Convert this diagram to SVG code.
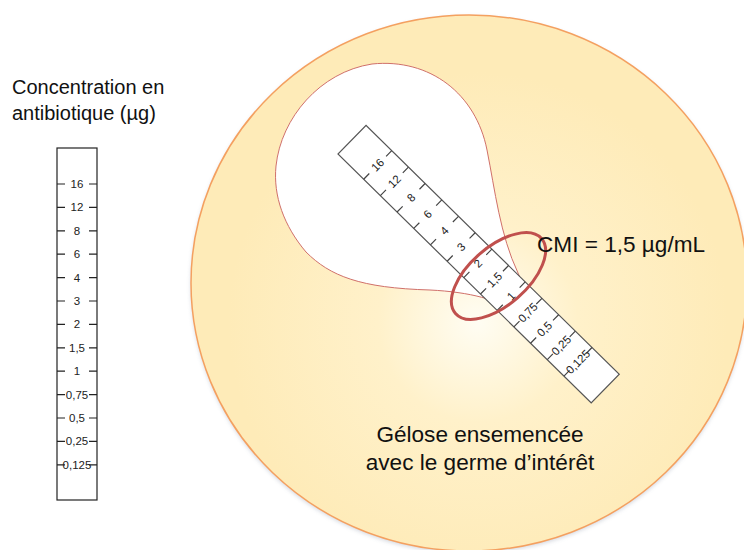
<svg xmlns="http://www.w3.org/2000/svg" width="744" height="550" viewBox="0 0 744 550">
  <defs>
    <radialGradient id="agar" cx="478" cy="322" r="250" gradientUnits="userSpaceOnUse">
      <stop offset="0" stop-color="#FFFDF3"/>
      <stop offset="0.4" stop-color="#FFF1CA"/>
      <stop offset="1" stop-color="#FEEBB8"/>
    </radialGradient>
    <filter id="soft" x="-10%" y="-10%" width="120%" height="120%">
      <feGaussianBlur stdDeviation="2"/>
    </filter>
    <style>
      .title { font-family: "Liberation Sans", Arial, sans-serif; font-size: 20px; fill: #111; }
      .label { font-family: "Liberation Sans", Arial, sans-serif; font-size: 22.6px; fill: #111; }
      .scale-text { font-family: "Liberation Sans", Arial, sans-serif; font-size: 11.5px; fill: #222; text-anchor: middle; }
      .strip { fill: #fff; stroke-width: 1.2; }
      .strip-left { stroke: #222; }
      .strip-rot { stroke: #555; }
      .tick { stroke-width: 1.2; }
    </style>
  </defs>

  <rect width="744" height="550" fill="#fff"/>

  <!-- Heading of the reference scale -->
  <g id="scale-title">
    <text class="title" x="12" y="94">Concentration en</text>
    <text class="title" x="12" y="120">antibiotique (µg)</text>
  </g>

  <!-- Petri dish with seeded agar -->
  <g id="agar-plate">
    <ellipse cx="469" cy="285" rx="278" ry="268" fill="#9AA3B5" opacity="0.45" filter="url(#soft)"/>
    <ellipse cx="469" cy="283" rx="278" ry="268" fill="url(#agar)" stroke="#F4A060" stroke-width="1.5"/>
  </g>

  <!-- Inhibition zone around the strip -->
  <g id="inhibition-zone">
    <path d="M 512,312 C 500,300 470,292 430,290 C 360,288 330,276 306,252 C 284,226 273,196 276,166 C 281,118 320,72 372,64 C 430,58 476,94 487,150 C 495,190 500,235 518,273 C 524,287 530,300 535,312 Z"
          fill="#fff" stroke="#D0706A" stroke-width="1"/>
  </g>

  <!-- Vertical reference scale -->
  <g id="scale-reference" transform="translate(57,148)">
    <rect class="strip strip-left" x="0" y="0" width="40" height="352"/>
    <g class="tick" stroke="#222">
      <path d="M0,36h8M32,36h8 M0,59.4h8M32,59.4h8 M0,82.8h8M32,82.8h8 M0,106.2h8M32,106.2h8 M0,129.6h8M32,129.6h8 M0,153h8M32,153h8 M0,176.4h8M32,176.4h8 M0,199.8h8M32,199.8h8 M0,223.2h8M32,223.2h8 M0,246.6h8M32,246.6h8 M0,270h8M32,270h8 M0,293.4h8M32,293.4h8 M0,316.8h8M32,316.8h8"/>
    </g>
    <text class="scale-text" x="20" y="40">16</text>
    <text class="scale-text" x="20" y="63.4">12</text>
    <text class="scale-text" x="20" y="86.8">8</text>
    <text class="scale-text" x="20" y="110.2">6</text>
    <text class="scale-text" x="20" y="133.6">4</text>
    <text class="scale-text" x="20" y="157">3</text>
    <text class="scale-text" x="20" y="180.4">2</text>
    <text class="scale-text" x="20" y="203.8">1,5</text>
    <text class="scale-text" x="20" y="227.2">1</text>
    <text class="scale-text" x="20" y="250.6">0,75</text>
    <text class="scale-text" x="20" y="274">0,5</text>
    <text class="scale-text" x="20" y="297.4">0,25</text>
    <text class="scale-text" x="20" y="320.8">0,125</text>
  </g>

  <!-- E-test strip laid on the agar -->
  <g id="etest-strip" transform="translate(338,154) rotate(-45.5)">
    <rect class="strip strip-rot" x="0" y="0" width="40" height="355"/>
    <g class="tick" stroke="#444">
      <path d="M0,36h8M32,36h8 M0,59.4h8M32,59.4h8 M0,82.8h8M32,82.8h8 M0,106.2h8M32,106.2h8 M0,129.6h8M32,129.6h8 M0,153h8M32,153h8 M0,176.4h8M32,176.4h8 M0,199.8h8M32,199.8h8 M0,223.2h8M32,223.2h8 M0,246.6h8M32,246.6h8 M0,270h8M32,270h8 M0,293.4h8M32,293.4h8 M0,316.8h8M32,316.8h8"/>
    </g>
    <text class="scale-text" x="20" y="40">16</text>
    <text class="scale-text" x="20" y="63.4">12</text>
    <text class="scale-text" x="20" y="86.8">8</text>
    <text class="scale-text" x="20" y="110.2">6</text>
    <text class="scale-text" x="20" y="133.6">4</text>
    <text class="scale-text" x="20" y="157">3</text>
    <text class="scale-text" x="20" y="180.4">2</text>
    <text class="scale-text" x="20" y="203.8">1,5</text>
    <text class="scale-text" x="20" y="227.2">1</text>
    <text class="scale-text" x="20" y="250.6">0,75</text>
    <text class="scale-text" x="20" y="274">0,5</text>
    <text class="scale-text" x="20" y="297.4">0,25</text>
    <text class="scale-text" x="20" y="320.8">0,125</text>
  </g>

  <!-- MIC reading -->
  <g id="mic-marker">
    <ellipse cx="498.5" cy="276" rx="57" ry="29" transform="rotate(-41 498.5 276)" fill="none" stroke="#C0504D" stroke-width="3"/>
    <text class="label" x="537" y="252">CMI = 1,5 µg/mL</text>
  </g>

  <!-- Agar caption -->
  <g id="agar-caption">
    <text class="label" x="480" y="442" text-anchor="middle">Gélose ensemencée</text>
    <text class="label" x="480" y="470" text-anchor="middle">avec le germe d’intérêt</text>
  </g>
</svg>
